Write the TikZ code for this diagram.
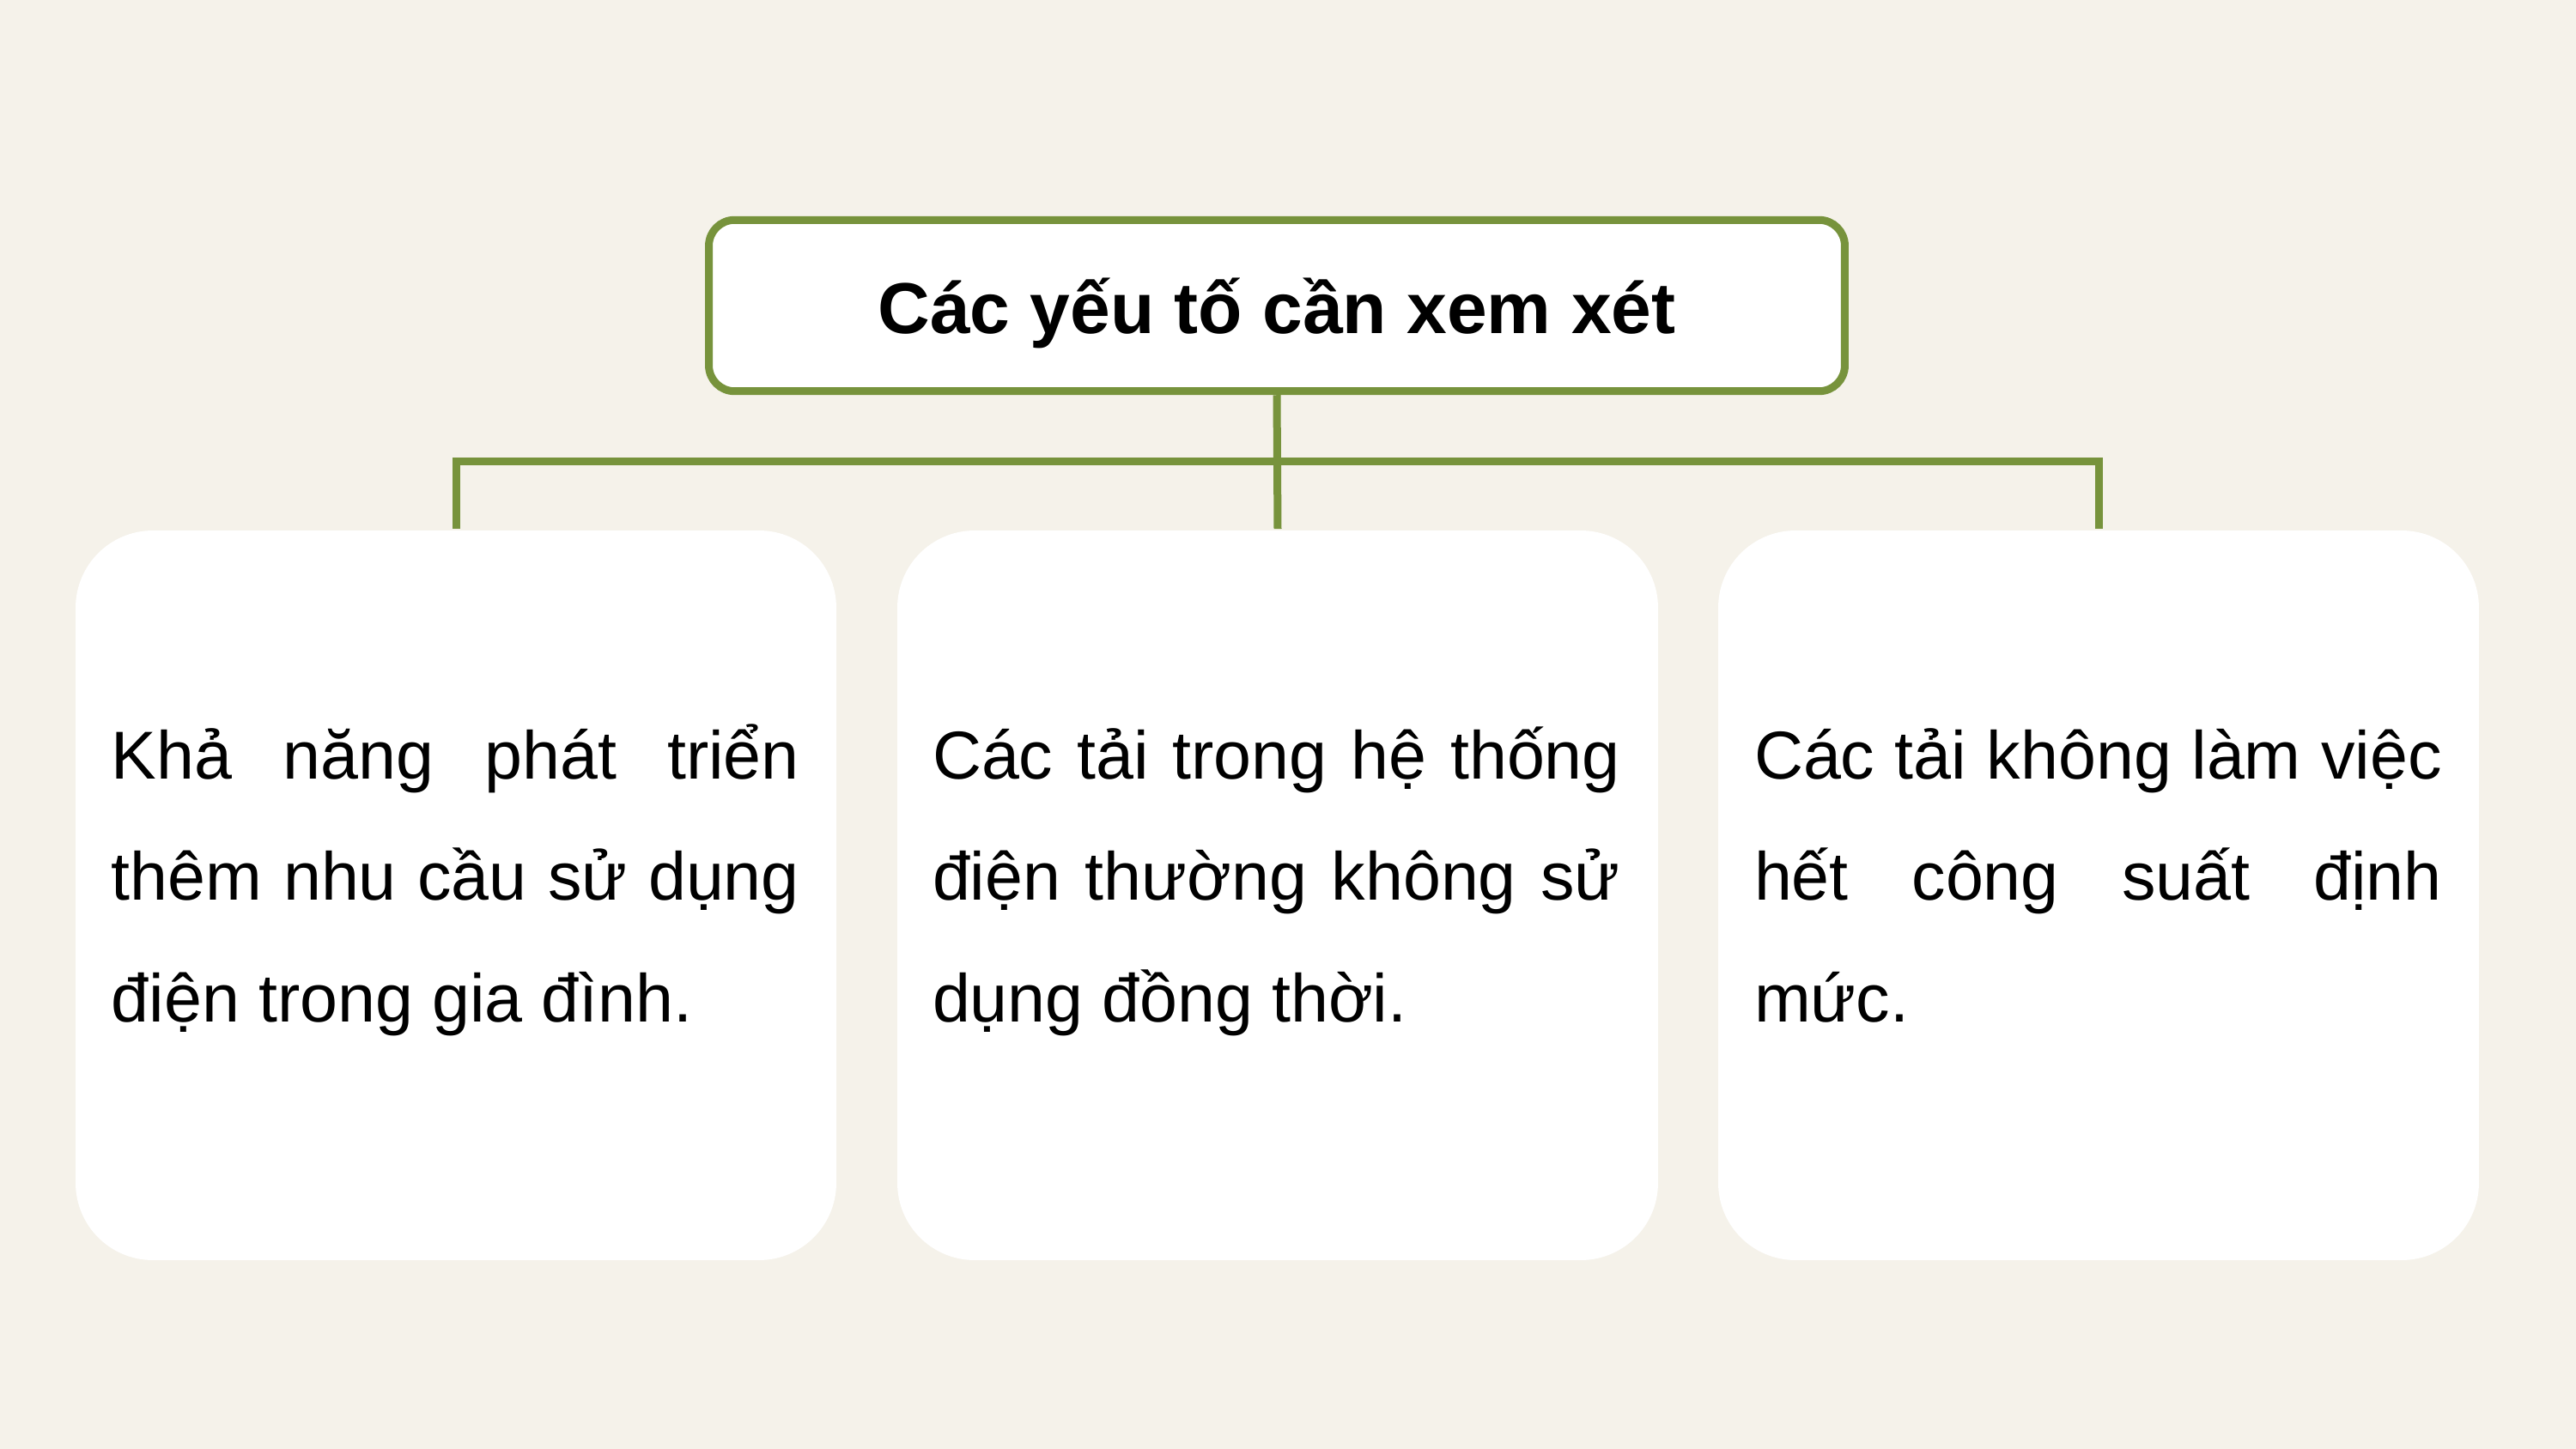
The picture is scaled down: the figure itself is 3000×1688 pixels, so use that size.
\documentclass[tikz,border=0pt]{standalone}
\usepackage{fontspec}
\setmainfont{Liberation Sans}
\definecolor{bgcream}{HTML}{F5F2EA}
\definecolor{olivegreen}{HTML}{77933C}
\newcommand\jl[1]{\hbox to\hsize{#1}}
\tikzset{
  titlebox/.style={draw=olivegreen, line width=0.9pt, fill=white, rounded corners=3pt,
    minimum width=132.3pt, minimum height=19.95pt, inner sep=0pt,
    text height=6.4pt, text depth=0pt,
    font=\fontsize{8.4}{10}\selectfont\bfseries},
  cardbox/.style={fill=white, rounded corners=9pt, minimum width=88.6pt,
    minimum height=85pt, inner sep=0pt},
  cardtext/.style={anchor=base west, inner sep=0pt, font=\fontsize{7.9}{14.2}\selectfont},
  conn/.style={draw=olivegreen, line width=0.9pt}
}
\begin{document}
\begin{tikzpicture}[x=0.1pt,y=-0.1pt]
\fill[bgcream] (0,0) rectangle (3000,1688);
\useasboundingbox (0,0) rectangle (3000,1688);
\node[cardbox] (b1) at (531,1043) {};
\node[cardbox] (b2) at (1488,1043) {};
\node[cardbox] (b3) at (2444,1043) {};
\node[titlebox] (top) at (1487,356) {Các yếu tố cần xem xét};
\coordinate (hl) at (531,537);
\coordinate (hr) at (2444,537);
\draw[conn] (top.south) -- (b2.north);
\draw[conn] (b1.north) -- (hl) -- (hr) -- (b3.north);
\node[cardtext] (t1) at (128,907) {\vtop{\hsize=80.1pt
  \jl{Khả năng phát triển}
  \jl{thêm nhu cầu sử dụng}
  \hbox{điện trong gia đình.}}};
\node[cardtext] (t2) at (1084,907) {\vtop{\hsize=80.1pt
  \jl{Các tải trong hệ thống}
  \jl{điện thường không sử}
  \hbox{dụng đồng thời.}}};
\node[cardtext] (t3) at (2041,907) {\vtop{\hsize=80.1pt
  \jl{Các tải không làm việc}
  \jl{hết công suất định}
  \hbox{mức.}}};
\end{tikzpicture}
\end{document}
